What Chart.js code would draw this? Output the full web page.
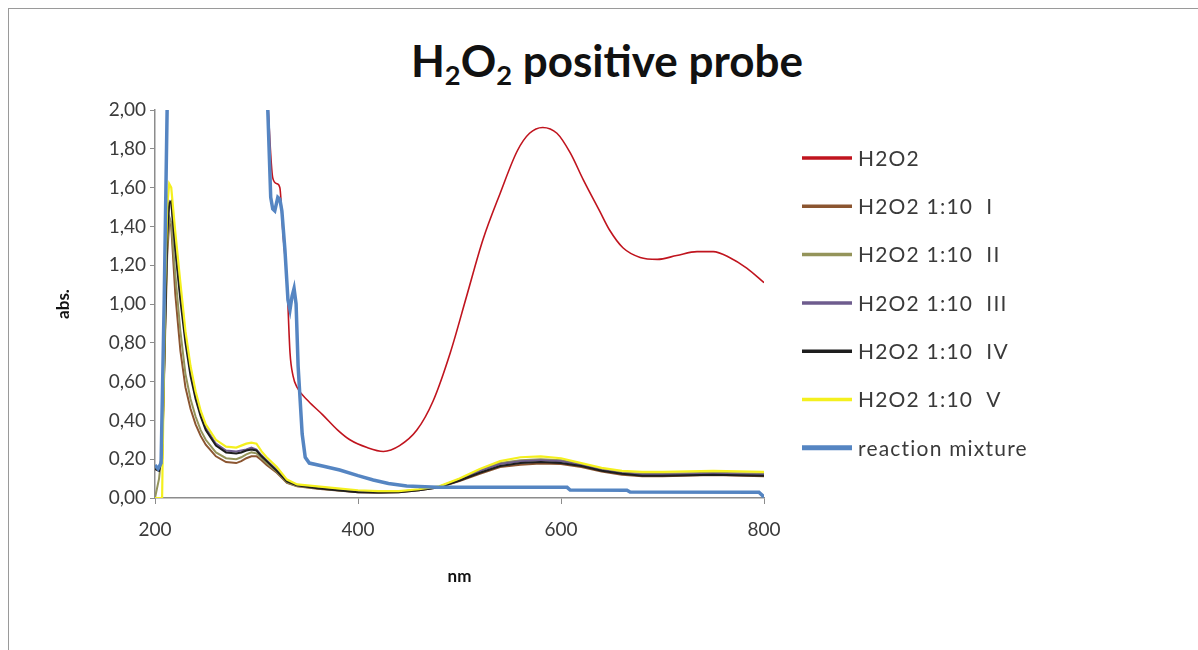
<!DOCTYPE html>
<html><head><meta charset="utf-8">
<script src="https://cdn.jsdelivr.net/npm/chart.js@4.4.1/dist/chart.umd.min.js"></script>
<style>
html,body{margin:0;padding:0;background:#fff;width:1198px;height:650px;overflow:hidden;}
#frame{position:absolute;left:8px;top:8px;width:1300px;height:700px;border:1px solid #9a9a9a;}
#title{position:absolute;left:0;top:35px;width:1214px;text-align:center;font-family:Lato;font-weight:bold;font-size:44px;color:#111;line-height:50px;}
#title sub{font-size:0.62em;vertical-align:-0.28em;line-height:0}
#wrap{position:absolute;left:0;top:0;width:1198px;height:650px;}
</style></head>
<body>
<div id="frame"></div>
<div id="title">H<sub>2</sub>O<sub>2</sub> positive probe</div>
<div id="wrap"><canvas id="c" width="1198" height="650"></canvas></div>
<script>
// ---- data ----
const seriesNames = ["H2O2", "H2O2 1:10  I", "H2O2 1:10  II", "H2O2 1:10  III", "H2O2 1:10  IV", "H2O2 1:10  V", "reaction mixture"];
const xTicks = [200, 400, 600, 800];
const yTicks = [0, 0.2, 0.4, 0.6, 0.8, 1.0, 1.2, 1.4, 1.6, 1.8, 2.0];

const h2o2Nm  = [311, 316, 320, 323, 326, 330, 333, 336, 340, 351, 365, 380, 392, 409, 425, 441, 458, 474, 491, 507, 523, 540, 557, 569, 582, 596, 609, 622, 638, 648, 661, 678, 695, 714, 734, 750, 766, 783, 800];
const h2o2Abs = [2.05, 1.65, 1.62, 1.60, 1.37, 1.11, 0.75, 0.63, 0.57, 0.50, 0.43, 0.35, 0.30, 0.26, 0.24, 0.27, 0.35, 0.50, 0.75, 1.04, 1.33, 1.57, 1.79, 1.88, 1.91, 1.88, 1.78, 1.64, 1.48, 1.38, 1.29, 1.24, 1.23, 1.25, 1.27, 1.27, 1.24, 1.185, 1.11];

const dilNm = [200, 204, 207, 210, 212, 214, 216, 220, 225, 230, 235, 240, 245, 250, 260, 270, 280, 285, 290, 295, 300, 305, 310, 320, 330, 340, 360, 380, 400, 420, 440, 460, 480, 500, 520, 540, 560, 580, 600, 620, 640, 660, 680, 700, 750, 800];
const dilI   = [0.15, 0.14, 0.20, 0.85, 1.25, 1.42, 1.40, 1.05, 0.76, 0.57, 0.46, 0.38, 0.32, 0.275, 0.215, 0.185, 0.18, 0.19, 0.205, 0.215, 0.215, 0.195, 0.17, 0.13, 0.078, 0.06, 0.048, 0.038, 0.03, 0.027, 0.029, 0.04, 0.055, 0.088, 0.125, 0.16, 0.172, 0.178, 0.175, 0.16, 0.137, 0.12, 0.112, 0.112, 0.118, 0.112];
const dilII  = [0.0, 0.10, 0.25, 0.90, 1.30, 1.45, 1.42, 1.15, 0.86, 0.64, 0.51, 0.42, 0.35, 0.30, 0.235, 0.205, 0.20, 0.21, 0.225, 0.235, 0.23, 0.205, 0.18, 0.135, 0.08, 0.062, 0.05, 0.04, 0.032, 0.03, 0.032, 0.043, 0.058, 0.097, 0.145, 0.18, 0.195, 0.20, 0.195, 0.175, 0.15, 0.132, 0.125, 0.125, 0.13, 0.125];
const dilIII = [0.16, 0.15, 0.22, 0.95, 1.40, 1.53, 1.52, 1.30, 1.05, 0.83, 0.66, 0.53, 0.44, 0.36, 0.28, 0.245, 0.24, 0.245, 0.25, 0.26, 0.25, 0.22, 0.195, 0.145, 0.088, 0.066, 0.052, 0.042, 0.033, 0.03, 0.032, 0.042, 0.057, 0.095, 0.14, 0.175, 0.19, 0.195, 0.19, 0.17, 0.145, 0.128, 0.12, 0.12, 0.125, 0.12];
const dilIV  = [0.15, 0.14, 0.20, 0.90, 1.35, 1.52, 1.53, 1.28, 1.02, 0.80, 0.63, 0.51, 0.42, 0.35, 0.27, 0.235, 0.23, 0.235, 0.245, 0.25, 0.245, 0.215, 0.19, 0.14, 0.085, 0.065, 0.05, 0.04, 0.03, 0.028, 0.03, 0.04, 0.055, 0.09, 0.13, 0.165, 0.18, 0.185, 0.18, 0.165, 0.14, 0.125, 0.115, 0.115, 0.12, 0.115];
const dilV   = [0.0, 0.0, 0.0, 1.10, 1.50, 1.62, 1.60, 1.37, 1.11, 0.86, 0.68, 0.55, 0.45, 0.38, 0.30, 0.265, 0.26, 0.27, 0.28, 0.285, 0.28, 0.24, 0.21, 0.16, 0.095, 0.07, 0.06, 0.05, 0.04, 0.035, 0.035, 0.045, 0.06, 0.10, 0.15, 0.19, 0.21, 0.215, 0.205, 0.18, 0.155, 0.14, 0.135, 0.135, 0.14, 0.135];

const mixNm  = [200, 203, 206, 209, 212, 260, 311, 314, 316, 318, 321, 323, 325, 328, 331, 333, 335, 337, 339, 341, 345, 348, 352, 365, 382, 400, 415, 430, 448, 478, 520, 560, 606, 609, 665, 668, 795, 800];
const mixAbs = [0.17, 0.15, 0.18, 1.0, 2.02, null, 2.02, 1.55, 1.49, 1.48, 1.55, 1.54, 1.48, 1.28, 1.02, 0.97, 1.04, 1.08, 1.0, 0.68, 0.33, 0.21, 0.18, 0.165, 0.144, 0.115, 0.093, 0.075, 0.062, 0.056, 0.056, 0.056, 0.055, 0.041, 0.040, 0.031, 0.030, 0.005];

const colors = ["#C0141E", "#8B5530", "#94945A", "#6E5C8E", "#1E1E1E", "#F4F01E", "#5585C2"];
const widths = [1.6, 2, 2, 2, 2, 2.2, 3.5];

const pts = (xs, ys) => xs.map((x, i) => ({x: x, y: ys[i]}));
const seriesData = [pts(h2o2Nm, h2o2Abs), pts(dilNm, dilI), pts(dilNm, dilII), pts(dilNm, dilIII), pts(dilNm, dilIV), pts(dilNm, dilV), pts(mixNm, mixAbs)];

const datasets = seriesData.map((d, i) => ({
  label: seriesNames[i],
  data: d,
  borderColor: colors[i],
  backgroundColor: colors[i],
  borderWidth: widths[i],
  pointRadius: 0,
  fill: false,
  tension: 0,
  cubicInterpolationMode: i === 0 ? 'monotone' : 'default',
  spanGaps: false,
  order: seriesNames.length - 1 - i
}));

const sideLegend = {
  id: 'sideLegend',
  afterDraw(chart) {
    const ctx = chart.ctx;
    ctx.save();
    chart.data.datasets.forEach((ds, i) => {
      const y = 158 + i * 48.3;
      ctx.strokeStyle = ds.borderColor;
      ctx.lineWidth = i === 6 ? 5 : 3.5;
      ctx.beginPath(); ctx.moveTo(802, y); ctx.lineTo(852, y); ctx.stroke();
      ctx.fillStyle = '#3a3a3a';
      ctx.font = '21px Lato';
      if ('letterSpacing' in ctx) ctx.letterSpacing = '1.2px';
      ctx.textBaseline = 'middle';
      ctx.fillText(ds.label, 858, y + 1);
    });
    ctx.restore();
  }
};

Chart.defaults.font.family = 'Lato';
new Chart(document.getElementById('c'), {
  type: 'line',
  data: { datasets: datasets },
  plugins: [sideLegend],
  options: {
    responsive: false,
    animation: false,
    devicePixelRatio: 1,
    layout: { padding: { left: 53, top: 110, right: 434, bottom: 63 } },
    plugins: { legend: { display: false }, tooltip: { enabled: false }, title: { display: false } },
    scales: {
      x: {
        type: 'linear', min: 200, max: 800,
        afterBuildTicks: s => { s.ticks = xTicks.map(v => ({value: v})); },
        afterFit: s => { s.height = 89; },
        ticks: { color: '#3a3a3a', font: { size: 19 }, padding: 14, maxRotation: 0 },
        grid: { drawOnChartArea: false, drawTicks: true, tickLength: 6, color: '#8c8c8c' },
        border: { color: '#8c8c8c', width: 1.5 },
        title: { display: true, text: 'nm', font: { size: 17, weight: 'bold' }, color: '#111', padding: 0 }
      },
      y: {
        type: 'linear', min: 0, max: 2,
        afterBuildTicks: s => { s.ticks = yTicks.map(v => ({value: v})); },
        afterFit: s => { s.width = 102; },
        ticks: { color: '#3a3a3a', font: { size: 19 }, padding: 4, callback: v => v.toFixed(2).replace('.', ',') },
        grid: { drawOnChartArea: false, drawTicks: true, tickLength: 5, color: '#8c8c8c' },
        border: { color: '#8c8c8c', width: 1.5 },
        title: { display: true, text: 'abs.', font: { size: 17, weight: 'bold' }, color: '#111', padding: 0 }
      }
    }
  }
});
</script>
</body></html>
